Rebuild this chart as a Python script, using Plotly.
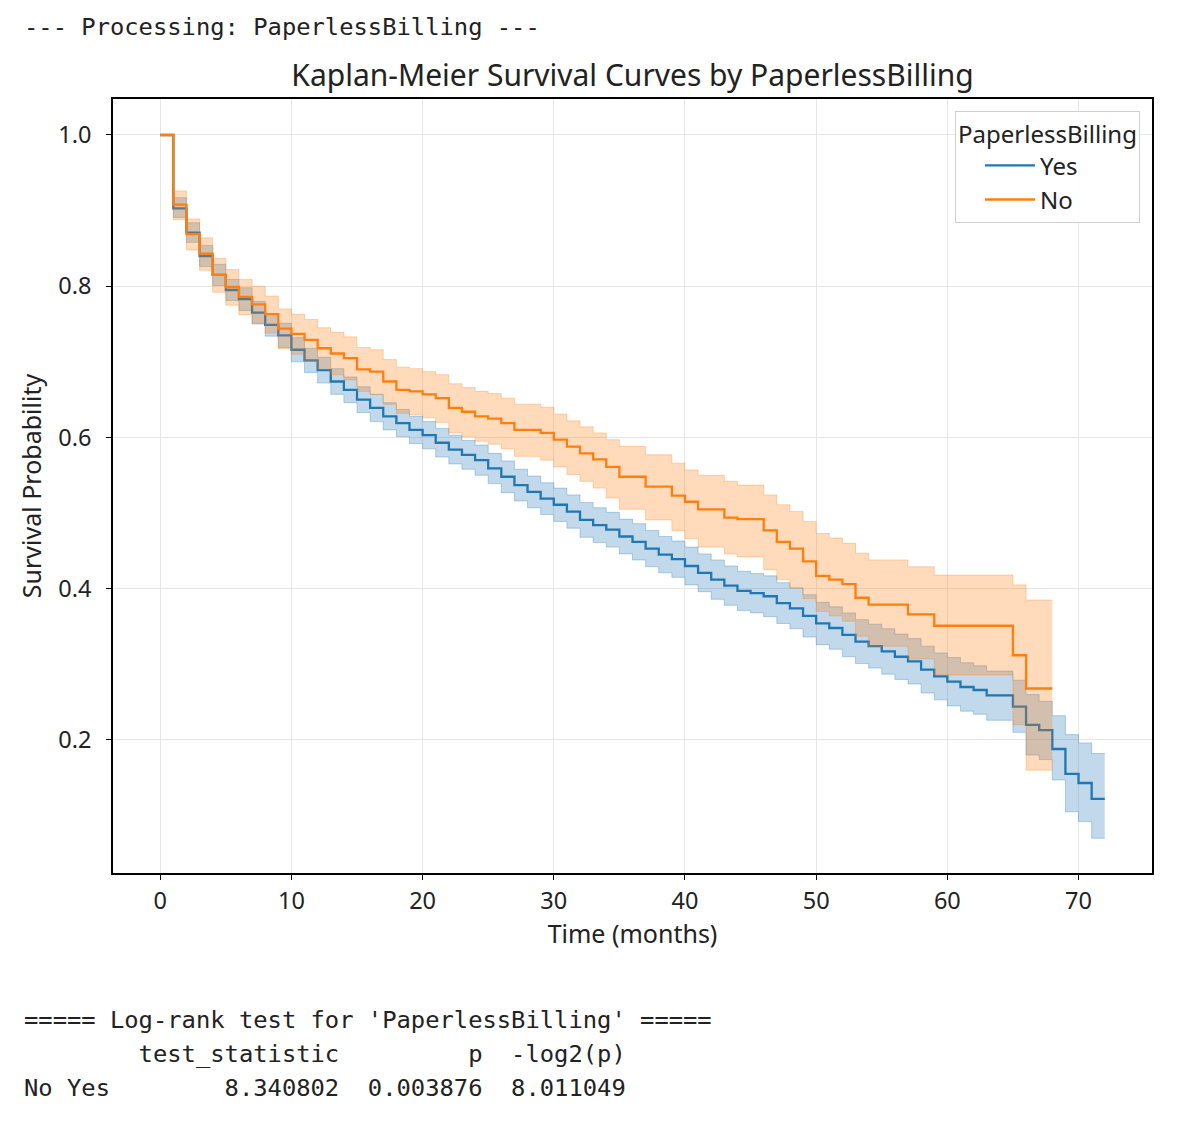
import plotly.graph_objects as go

# ---------------- data ----------------
yes_time = list(range(0, 73))
yes_surv = [1.000, 0.903, 0.871, 0.840, 0.815, 0.795, 0.783, 0.765, 0.749, 0.735,
            0.716, 0.702, 0.689, 0.674, 0.663, 0.650, 0.639, 0.628, 0.619, 0.610,
            0.603, 0.593, 0.584, 0.577, 0.570, 0.559, 0.548, 0.537, 0.528, 0.519,
            0.511, 0.502, 0.491, 0.484, 0.478, 0.469, 0.462, 0.453, 0.445, 0.439,
            0.430, 0.421, 0.412, 0.404, 0.397, 0.394, 0.390, 0.381, 0.374, 0.364,
            0.354, 0.348, 0.339, 0.330, 0.324, 0.317, 0.310, 0.304, 0.293, 0.284,
            0.277, 0.270, 0.266, 0.259, 0.259, 0.244, 0.220, 0.213, 0.188, 0.155,
            0.143, 0.122, 0.122]
yes_upper = [1.000, 0.917, 0.884, 0.854, 0.829, 0.809, 0.798, 0.780, 0.764, 0.751,
             0.732, 0.718, 0.706, 0.691, 0.680, 0.667, 0.657, 0.646, 0.637, 0.628,
             0.621, 0.612, 0.603, 0.596, 0.590, 0.579, 0.569, 0.558, 0.549, 0.540,
             0.533, 0.524, 0.514, 0.507, 0.501, 0.492, 0.486, 0.477, 0.469, 0.463,
             0.455, 0.446, 0.438, 0.430, 0.423, 0.420, 0.417, 0.408, 0.401, 0.392,
             0.382, 0.376, 0.368, 0.359, 0.353, 0.347, 0.340, 0.334, 0.324, 0.315,
             0.309, 0.302, 0.298, 0.291, 0.291, 0.279, 0.260, 0.251, 0.232, 0.207,
             0.196, 0.182, 0.182]
yes_lower = [1.000, 0.891, 0.858, 0.826, 0.801, 0.781, 0.768, 0.750, 0.734, 0.719,
             0.700, 0.686, 0.672, 0.657, 0.646, 0.633, 0.621, 0.610, 0.601, 0.592,
             0.585, 0.574, 0.565, 0.558, 0.550, 0.539, 0.527, 0.516, 0.507, 0.498,
             0.489, 0.480, 0.468, 0.461, 0.455, 0.446, 0.438, 0.429, 0.421, 0.415,
             0.405, 0.396, 0.386, 0.378, 0.371, 0.368, 0.363, 0.354, 0.347, 0.336,
             0.326, 0.320, 0.310, 0.301, 0.295, 0.287, 0.280, 0.274, 0.262, 0.253,
             0.245, 0.238, 0.234, 0.226, 0.226, 0.210, 0.180, 0.174, 0.147, 0.105,
             0.092, 0.070, 0.070]

no_time = list(range(0, 69))
no_surv = [1.000, 0.908, 0.869, 0.843, 0.815, 0.799, 0.786, 0.776, 0.763, 0.744,
           0.737, 0.729, 0.718, 0.711, 0.705, 0.690, 0.687, 0.674, 0.663, 0.661,
           0.657, 0.652, 0.639, 0.634, 0.628, 0.625, 0.619, 0.610, 0.610, 0.606,
           0.597, 0.588, 0.579, 0.571, 0.561, 0.548, 0.548, 0.535, 0.535, 0.523,
           0.515, 0.505, 0.505, 0.494, 0.492, 0.492, 0.477, 0.462, 0.453, 0.436,
           0.417, 0.412, 0.406, 0.388, 0.379, 0.379, 0.379, 0.366, 0.366, 0.351,
           0.351, 0.351, 0.351, 0.351, 0.351, 0.312, 0.268, 0.268, 0.268]
no_upper = [1.000, 0.926, 0.889, 0.864, 0.837, 0.822, 0.809, 0.800, 0.787, 0.770,
            0.763, 0.756, 0.745, 0.739, 0.733, 0.719, 0.716, 0.703, 0.693, 0.691,
            0.687, 0.683, 0.671, 0.666, 0.661, 0.658, 0.652, 0.644, 0.644, 0.640,
            0.631, 0.622, 0.614, 0.606, 0.597, 0.588, 0.588, 0.577, 0.577, 0.566,
            0.557, 0.550, 0.550, 0.542, 0.537, 0.537, 0.524, 0.511, 0.502, 0.489,
            0.473, 0.467, 0.460, 0.447, 0.438, 0.438, 0.438, 0.429, 0.429, 0.418,
            0.418, 0.418, 0.418, 0.418, 0.418, 0.405, 0.385, 0.385, 0.385]
no_lower = [1.000, 0.888, 0.848, 0.821, 0.792, 0.775, 0.762, 0.751, 0.738, 0.717,
            0.710, 0.701, 0.690, 0.683, 0.676, 0.661, 0.657, 0.644, 0.632, 0.630,
            0.626, 0.620, 0.606, 0.601, 0.595, 0.591, 0.585, 0.575, 0.575, 0.570,
            0.561, 0.551, 0.542, 0.533, 0.520, 0.505, 0.505, 0.491, 0.491, 0.477,
            0.466, 0.455, 0.455, 0.446, 0.442, 0.442, 0.425, 0.412, 0.401, 0.387,
            0.370, 0.364, 0.357, 0.337, 0.324, 0.324, 0.324, 0.307, 0.307, 0.286,
            0.286, 0.286, 0.286, 0.286, 0.286, 0.220, 0.160, 0.160, 0.160]

x_ticks = [0, 10, 20, 30, 40, 50, 60, 70]
y_ticks = [0.2, 0.4, 0.6, 0.8, 1.0]

header_text = "--- Processing: PaperlessBilling ---"
logrank_lines = [
    "===== Log-rank test for 'PaperlessBilling' =====",
    "        test_statistic         p  -log2(p)",
    "No Yes        8.340802  0.003876  8.011049",
]

# ---------------- figure ----------------
BLUE = "#1f77b4"
ORANGE = "#ff7f0e"
BLUE_FILL = "rgba(31,119,180,0.28)"
ORANGE_FILL = "rgba(255,127,14,0.28)"
BLUE_EDGE = "rgba(31,119,180,0.30)"
ORANGE_EDGE = "rgba(255,127,14,0.30)"

fig = go.Figure()


def add_group(t, s, lo, up, name, color, fill, edge):
    fig.add_trace(go.Scatter(x=t, y=up, mode="lines", line=dict(shape="hv", width=1, color=edge),
                             showlegend=False, hoverinfo="skip"))
    fig.add_trace(go.Scatter(x=t, y=lo, mode="lines", line=dict(shape="hv", width=1, color=edge),
                             fill="tonexty", fillcolor=fill, showlegend=False, hoverinfo="skip"))
    fig.add_trace(go.Scatter(x=t, y=s, mode="lines", name=name,
                             line=dict(shape="hv", width=2.3, color=color)))


add_group(yes_time, yes_surv, yes_lower, yes_upper, "Yes", BLUE, BLUE_FILL, BLUE_EDGE)
add_group(no_time, no_surv, no_lower, no_upper, "No", ORANGE, ORANGE_FILL, ORANGE_EDGE)

W, H = 1191, 1126
L, R, T, B = 113, 1152, 99, 873
pw, ph = R - L, B - T


def px(xp):
    return (xp - L) / pw


def py(yp):
    return (B - yp) / ph


mono = dict(family="DejaVu Sans Mono", size=23.8, color="#222222")
annotations = [
    dict(text=header_text.replace(" ", "\u00a0"), x=px(22), y=py(27), xref="paper", yref="paper",
         xanchor="left", yanchor="middle", showarrow=False, font=mono),
]
for i, line in enumerate(logrank_lines):
    annotations.append(dict(text=line.replace(" ", "\u00a0"), x=px(22), y=py(1020 + 34 * i),
                            xref="paper", yref="paper", xanchor="left", yanchor="middle",
                            showarrow=False, font=mono))

sans = "Noto Sans"
fig.update_layout(
    width=W, height=H,
    margin=dict(l=L, r=W - R, t=T, b=H - B),
    paper_bgcolor="white", plot_bgcolor="white",
    font=dict(family=sans, size=23, color="#222222"),
    title=dict(text="Kaplan-Meier Survival Curves by PaperlessBilling", x=0.5, xref="paper",
               xanchor="center", y=1 - 75 / H, yref="container", yanchor="middle",
               font=dict(family=sans, size=30, color="#222222")),
    xaxis=dict(range=[-3.6, 75.6], tickvals=x_ticks, ticktext=[str(v) for v in x_ticks],
               showgrid=True, gridcolor="#e6e6e6", gridwidth=1, zeroline=False,
               showline=True, linecolor="black", linewidth=1.5, mirror=True,
               ticks="outside", ticklen=5, tickcolor="black", tickfont=dict(size=23.5),
               ticklabelstandoff=1,
               title=dict(text="Time (months)", font=dict(size=25), standoff=6)),
    yaxis=dict(range=[0.024, 1.0476], tickvals=y_ticks, ticktext=[f"{v:.1f}" for v in y_ticks],
               showgrid=True, gridcolor="#e6e6e6", gridwidth=1, zeroline=False,
               showline=True, linecolor="black", linewidth=1.5, mirror=True,
               ticks="outside", ticklen=5, tickcolor="black", tickfont=dict(size=23.5),
               ticklabelstandoff=10,
               title=dict(text="Survival Probability", font=dict(size=25), standoff=10)),
    legend=dict(x=px(1140), y=py(111), xanchor="right", yanchor="top",
                bgcolor="rgba(255,255,255,0.85)", bordercolor="#d0d0d0", borderwidth=1,
                traceorder="normal", indentation=24,
                title=dict(text="PaperlessBilling", side="top center", font=dict(size=24)),
                font=dict(size=24), tracegroupgap=0, itemwidth=50),
    annotations=annotations,
)

fig.write_html("out.html")
